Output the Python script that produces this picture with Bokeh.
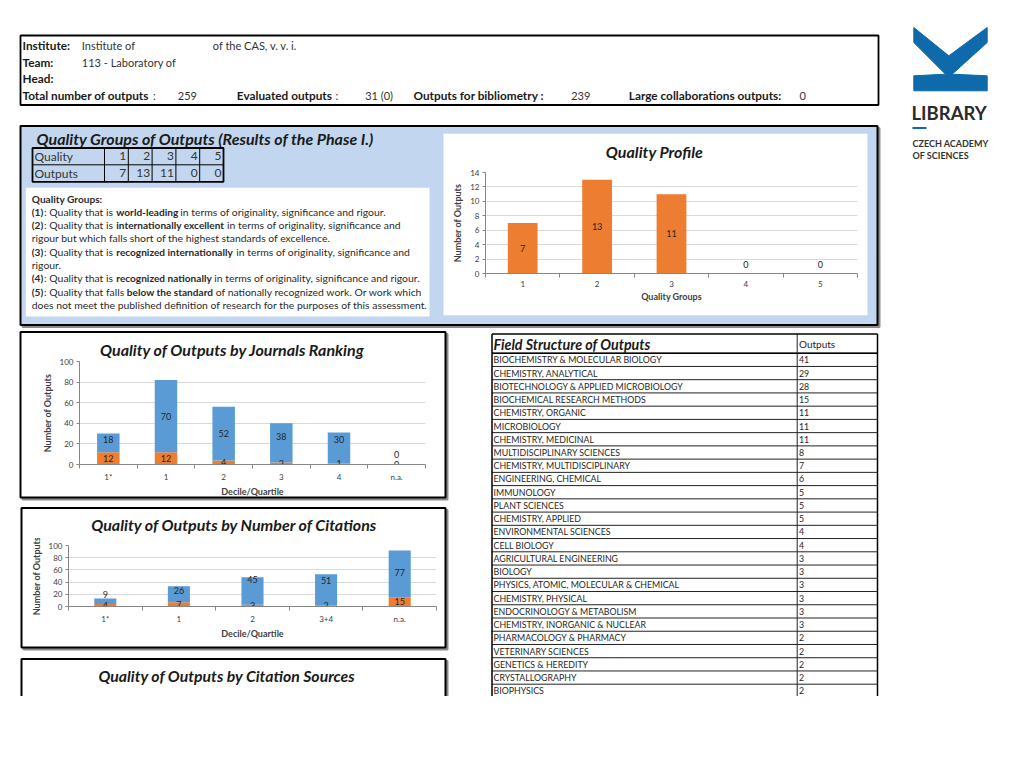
import numpy as np
from bokeh.plotting import figure
from bokeh.models import (Range1d, ColumnDataSource, LinearAxis, FixedTicker, Grid, GridBox)
from bokeh.core.properties import value
from bokeh.embed import file_html
from bokeh.resources import INLINE

FONT = "Lato"
ORANGE = "#ed7d31"
BLUE = "#5b9bd5"
PANEL = "#c2d7ef"
LOGO = "#0f6aab"
AXC = "#868686"
GRIDC = "#d9d9d9"
DARK = "#1a1a1a"
GREY = "#333333"
SHADOW = "#8c8c8c"

# ---------------- data ----------------
quality_groups = ["1", "2", "3", "4", "5"]
quality_outputs = [7, 13, 11, 0, 0]

journal_cats = ["1*", "1", "2", "3", "4", "n.a."]
journal_orange = [12, 12, 4, 2, 1, 0]
journal_blue = [18, 70, 52, 38, 30, 0]

citation_cats = ["1*", "1", "2", "3+4", "n.a."]
citation_orange = [4, 7, 3, 2, 15]
citation_blue = [9, 26, 45, 51, 77]

field_names = [
    "BIOCHEMISTRY & MOLECULAR BIOLOGY", "CHEMISTRY, ANALYTICAL", "BIOTECHNOLOGY & APPLIED MICROBIOLOGY",
    "BIOCHEMICAL RESEARCH METHODS", "CHEMISTRY, ORGANIC", "MICROBIOLOGY", "CHEMISTRY, MEDICINAL",
    "MULTIDISCIPLINARY SCIENCES", "CHEMISTRY, MULTIDISCIPLINARY", "ENGINEERING, CHEMICAL", "IMMUNOLOGY",
    "PLANT SCIENCES", "CHEMISTRY, APPLIED", "ENVIRONMENTAL SCIENCES", "CELL BIOLOGY",
    "AGRICULTURAL ENGINEERING", "BIOLOGY", "PHYSICS, ATOMIC, MOLECULAR & CHEMICAL", "CHEMISTRY, PHYSICAL",
    "ENDOCRINOLOGY & METABOLISM", "CHEMISTRY, INORGANIC & NUCLEAR", "PHARMACOLOGY & PHARMACY",
    "VETERINARY SCIENCES", "GENETICS & HEREDITY", "CRYSTALLOGRAPHY", "BIOPHYSICS",
]
field_outputs = [41, 29, 28, 15, 11, 11, 11, 8, 7, 6, 5, 5, 5, 4, 4, 3, 3, 3, 3, 3, 3, 2, 2, 2, 2, 2]

desc_lines = [
    [("Quality Groups:", True)],
    [("(1)", True), (": Quality that is", False), ("world-leading", True),
     ("in terms of originality, significance and rigour.", False)],
    [("(2)", True), (": Quality that is", False), ("internationally excellent", True),
     ("in terms of originality, significance and", False)],
    [("rigour but which falls short of the highest standards of excellence.", False)],
    [("(3)", True), (": Quality that is", False), ("recognized internationally", True),
     ("in terms of originality, significance and", False)],
    [("rigour.", False)],
    [("(4)", True), (": Quality that is", False), ("recognized nationally", True),
     ("in terms of originality, significance and rigour.", False)],
    [("(5)", True), (": Quality that falls", False), ("below the standard", True),
     ("of nationally recognized work. Or work which", False)],
    [("does not meet the published definition of research for the purposes of this assessment.", False)],
]
desc_x = [[31.3], [31.3, 43.6, 115.8, 179.8], [31.3, 43.6, 115.8, 226.5], [31.3],
          [31.3, 43.6, 115.8, 235.8], [31.3], [31.3, 43.6, 115.8, 213.8], [31.3, 43.6, 126.3, 215.3], [31.3]]
desc_y = [198, 211.3, 224.5, 237.8, 251.1, 264.4, 277.8, 291.2, 304.6]

# ---------------- canvas (page coordinates, y downwards) ----------------
W, H = 1000, 696
cv = figure(width=W, height=H, x_range=Range1d(0, W), y_range=Range1d(H, 0),
            x_axis_type=None, y_axis_type=None, toolbar_location=None, output_backend="svg",
            min_border=0, outline_line_color=None, background_fill_color="white",
            border_fill_color="white", frame_align=False)


def txt(x, y, s, size, bold=False, italic=False, color=DARK, align="left"):
    style = "bold italic" if (bold and italic) else ("bold" if bold else ("italic" if italic else "normal"))
    cv.text(x=[x], y=[y], text=[s], text_font=value(FONT), text_font_size=f"{size}px",
            text_font_style=style, text_color=color, text_align=align, text_baseline="middle")


def box(l, r, t, b, fill=None, line="black", lw=1.0):
    cv.quad(left=[l], right=[r], top=[t], bottom=[b],
            fill_color=fill if fill else "white", fill_alpha=1 if fill else 0,
            line_color=line if line else "white", line_alpha=1 if line else 0, line_width=lw)


def shadow_box(l, r, t, b, fill="white", lw=2):
    box(l + 2, r + 2, t + 2, b + 2, SHADOW, SHADOW, lw)
    box(l, r, t, b, fill, "black", lw)


def hline(x0, x1, y, lw=1.0, color="black"):
    cv.segment(x0=[x0], y0=[y], x1=[x1], y1=[y], line_color=color, line_width=lw)


def vline(x, y0, y1, lw=1.0, color="black"):
    cv.segment(x0=[x], y0=[y0], x1=[x], y1=[y1], line_color=color, line_width=lw)


# header
box(20, 878, 35, 104.5, None, "black", 1.8)
HB, HN = 11.8, 11
txt(22, 45, "Institute:", HB, bold=True)
txt(81.3, 45, "Institute of", HN, color=GREY)
txt(212.3, 45, "of the CAS, v. v. i.", HN, color=GREY)
txt(22, 61.5, "Team:", HB, bold=True)
txt(81.3, 61.5, "113 - Laboratory of", HN, color=GREY)
txt(22, 78, "Head:", HB, bold=True)
txt(22, 95, "Total number of outputs", HB, bold=True)
txt(152.5, 95, ":", HN, color=GREY)
txt(177.3, 95, "259", HN, color=GREY)
txt(236.3, 95, "Evaluated outputs", HB, bold=True)
txt(335, 95, ":", HN, color=GREY)
txt(364.7, 95, "31 (0)", HN, color=GREY)
txt(413, 95, "Outputs for bibliometry :", HB, bold=True)
txt(570.7, 95, "239", HN, color=GREY)
txt(628.3, 95, "Large collaborations outputs:", HB, bold=True)
txt(799, 95, "0", HN, color=GREY)

# logo
cv.patch(x=[913.3, 948.3, 986.7, 986.7, 951.7, 986.7, 986.7, 913.3, 913.3, 945, 913.3],
         y=[27, 55.3, 27, 42, 73.7, 75.3, 90.3, 90.3, 75.3, 73.7, 42],
         fill_color=LOGO, line_color=LOGO)
txt(911, 112, "LIBRARY", 18.5, bold=True, color="#2b2b2b")
hline(912, 926, 127.5, lw=2, color=LOGO)
txt(912, 143, "CZECH ACADEMY", 9, bold=True, color="#333333")
txt(912, 155, "OF SCIENCES", 9, bold=True, color="#333333")

# blue panel
shadow_box(20, 877, 125.5, 324.5, PANEL)
txt(36, 137.5, "Quality Groups of Outputs (Results of the Phase I.)", 16, bold=True, italic=True)

# quality table
tl, tr, tt, tm, tb = 32, 223, 147.5, 164.3, 181.3
col_edges = [104 + i * (tr - 104) / 5 for i in range(6)]
for ce in col_edges[:-1]:
    vline(ce, tt, tb, lw=1)
hline(tl, tr, tm, lw=1)
box(tl, tr, tt, tb, None, "black", 1.8)
txt(34, (tt + tm) / 2, "Quality", 12, color=GREY)
txt(34, (tm + tb) / 2, "Outputs", 12, color=GREY)
for i in range(5):
    txt(col_edges[i + 1] - 2, (tt + tm) / 2, quality_groups[i], 12, color=GREY, align="right")
    txt(col_edges[i + 1] - 2, (tm + tb) / 2, str(quality_outputs[i]), 12, color=GREY, align="right")

# description box
box(25.3, 429, 187.3, 316, "white", None)
for segs, xs, y in zip(desc_lines, desc_x, desc_y):
    for (s, b), x in zip(segs, xs):
        txt(x, y, s, 10.1 if b else 10.4, bold=b, color="#2a2a2a")

# profile white box + title
box(443, 867, 133.3, 314.7, "white", None)
txt(654, 151.3, "Quality Profile", 16, bold=True, italic=True, align="center")

# journals box
shadow_box(20, 445, 331.5, 497)
txt(232, 348.5, "Quality of Outputs by Journals Ranking", 16, bold=True, italic=True, align="center")

# citations box
shadow_box(21, 445, 507.5, 647)
txt(234, 524.3, "Quality of Outputs by Number of Citations", 16, bold=True, italic=True, align="center")

# citation sources box (cut at page bottom)
shadow_box(21, 445, 658.5, 730)
txt(226.5, 675, "Quality of Outputs by Citation Sources", 15.8, bold=True, italic=True, align="center")

# field structure table
fl, fd, fr, ft, fh = 491.5, 796.7, 877, 333.5, 352.7
RH = 13.24
nrows = len(field_names)
for i in range(nrows + 1):
    hline(fl, fr, fh + i * RH, lw=1, color="#222222")
hline(fl, fr, ft, lw=1.5)
hline(fl, fr, fh, lw=1.5)
vline(fl, ft, 730, lw=1.5)
vline(fd, ft, 730, lw=1, color="#222222")
vline(fr, ft, 730, lw=1.5)
txt(493, 343.5, "Field Structure of Outputs", 14.3, bold=True, italic=True)
txt(798.5, 343, "Outputs", 10, color="#222222")
for i, (nm, v) in enumerate(zip(field_names, field_outputs)):
    yc = fh + (i + 0.5) * RH
    txt(493, yc, nm, 8.8, color="#262626")
    txt(798.5, yc, str(v), 8.8, color="#262626")


# ---------------- bar charts ----------------
def bar_chart(cats, orange, blue, w, h, bl, br, bt, bb, ymax, ystep, bw, ylabel, xlabel, margin,
              blue_shift=None):
    n = len(cats)
    xc = np.arange(n) + 0.5          # category centres on a 0..n band scale
    frame_h = h - bt - bb
    p = figure(width=w, height=h, x_range=Range1d(0, n), y_range=Range1d(0, ymax),
               x_axis_type=None, y_axis_type=None, toolbar_location=None, output_backend="svg",
               min_border_left=bl, min_border_right=br, min_border_top=bt, min_border_bottom=bb,
               outline_line_color=None, background_fill_color="white", border_fill_alpha=0,
               border_fill_color="white", frame_align=False)
    p.margin = margin
    yt = FixedTicker(ticks=list(range(0, ymax + 1, ystep)))
    yax = LinearAxis(ticker=yt, axis_line_color=AXC, major_tick_line_color=AXC, major_tick_out=3,
                     major_tick_in=0, minor_tick_out=0, minor_tick_in=0, major_label_standoff=3,
                     major_label_text_font=FONT, major_label_text_font_size="8px",
                     major_label_text_color="#404040", axis_label=ylabel, axis_label_standoff=4,
                     axis_label_text_font=FONT, axis_label_text_font_size="9px",
                     axis_label_text_font_style="bold", axis_label_text_color="#404040")
    p.add_layout(yax, "left")
    p.add_layout(Grid(dimension=1, ticker=yt, grid_line_color=GRIDC))
    # category labels at centres, small tick marks at the category boundaries (minor ticks)
    xax = LinearAxis(ticker=FixedTicker(ticks=list(xc), minor_ticks=list(range(n + 1))),
                     major_label_overrides={float(x): c for x, c in zip(xc, cats)},
                     axis_line_color=AXC, major_tick_line_color=None, major_tick_out=0, major_tick_in=0,
                     minor_tick_line_color=AXC, minor_tick_out=4, minor_tick_in=0,
                     major_label_standoff=3, major_label_text_font=FONT,
                     major_label_text_font_size="8px", major_label_text_color="#404040",
                     axis_label=xlabel, axis_label_standoff=1, axis_label_text_font=FONT,
                     axis_label_text_font_size="9px", axis_label_text_font_style="bold",
                     axis_label_text_color="#404040")
    p.add_layout(xax, "below")

    o = np.array(orange, dtype=float)
    src = dict(x=list(xc), o=list(orange))
    if blue is not None:
        src["b"] = list(blue)
        p.vbar_stack(["o", "b"], x="x", width=bw, fill_color=[ORANGE, BLUE], line_color=None,
                     source=ColumnDataSource(src))
    else:
        p.vbar(x="x", top="o", width=bw, fill_color=ORANGE, line_color=None,
               source=ColumnDataSource(src))

    px = ymax / frame_h  # data units per screen pixel

    def labels(vals, base, zero_shift, shift=None):
        vals = np.array(vals, dtype=float)
        ys = base + vals / 2
        if shift is not None:
            ys = ys + np.array(shift) * px        # lift label by the given number of pixels
        ys = np.where(vals > 0, ys, base + zero_shift * px)
        p.text(x=list(xc), y=list(ys), text=[str(int(v)) for v in vals], text_font=value(FONT),
               text_font_size="9px", text_color="#262626", text_align="center",
               text_baseline="middle")

    if blue is not None:
        labels(orange, np.zeros(n), 0)
        labels(blue, o, 10, blue_shift)
    else:
        labels(orange, np.zeros(n), 9)
    return p


prof = bar_chart(quality_groups, quality_outputs, None, 424, 182, 42, 10, 39, 42, 14, 2, 0.4,
                 "Number of Outputs", "Quality Groups", (133, 0, 0, 443))
jour = bar_chart(journal_cats, journal_orange, journal_blue, 422, 147, 57, 19, 9, 34, 100, 20, 0.39,
                 "Number of Outputs", "Decile/Quartile", (352, 0, 0, 22),
                 blue_shift=[3.3, 0, 0, 6, 8.7, 0])
cit = bar_chart(citation_cats, citation_orange, citation_blue, 420, 108, 45, 7, 7, 40, 100, 20, 0.3,
                "Number of Outputs", "Decile/Quartile", (538, 0, 0, 23),
                blue_shift=[7.3, 3.7, 11.3, 9.2, 1.7])

page = GridBox(children=[(cv, 0, 0), (prof, 0, 0), (jour, 0, 0), (cit, 0, 0)], spacing=0)

open("out.html", "w").write(file_html(page, INLINE))
